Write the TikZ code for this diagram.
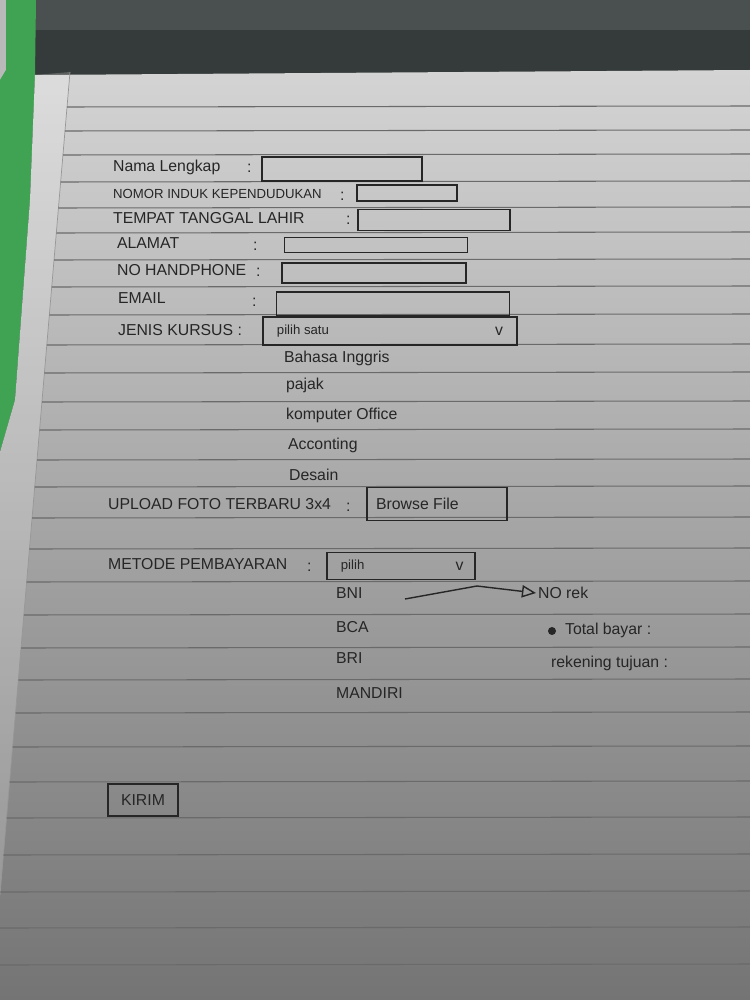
\documentclass[tikz,border=0pt]{standalone}
\usepackage{fontspec}
\setmainfont{Liberation Sans}
\usetikzlibrary{arrows.meta,positioning}
\definecolor{ink}{HTML}{262626}
\definecolor{desk}{HTML}{353B3A}
\definecolor{deskedge}{HTML}{4A504F}
\definecolor{folder}{HTML}{3FA353}
\definecolor{papertop}{HTML}{D4D4D4}
\definecolor{papermid}{HTML}{B8B8B8}
\definecolor{paperbot}{HTML}{747474}
\definecolor{rule}{HTML}{6A6A6A}

\begin{document}
\begin{tikzpicture}[x=0.02cm,y=-0.02cm]
    \useasboundingbox (0,0) rectangle (750,1000);
    % meja, map hijau, kertas bergaris
    \fill[desk] (0,0) rectangle (750,1000);
    \fill[deskedge] (0,0) rectangle (750,30);
    \fill[gray!55] (0,0) rectangle (8,80);
    \fill[folder] (6,0) -- (36,0) -- (35,75) -- (30,200) -- (15,400) -- (0,452) -- (0,80) -- (6,70) -- cycle;
    \shade[top color=papertop, middle color=papermid, bottom color=paperbot]
      (35,75) -- (750,70) -- (750,1000) -- (0,1000) -- (0,452) -- (15,400) -- (30,200) -- cycle;
    \fill[white, opacity=0.2] (35,75) -- (70,72) -- (0,895) -- (0,452) -- (15,400) -- (30,200) -- cycle;
    \draw[rule!70, line width=0.4pt] (70,72) -- (0,895);
    \foreach \ry in {107,131,155,182,208,233,260,287,315,345,373,402,430,460,487,518,549,
                     582,615,648,680,713,747,782,818,855,892,928,965}
      \draw[rule, line width=0.6pt] ({max(0,70-0.085*(\ry-72))},\ry) -- (750,\ry-1);

    \begin{scope}[every node/.style={draw=ink,line width=0.8pt,inner sep=0pt}]
      \node[minimum width=3.2cm,  minimum height=0.48cm] (bnama)    at (342,169) {};
      \node[minimum width=2.0cm,  minimum height=0.32cm] (bnik)     at (407,193) {};
      \node[minimum width=3.04cm, minimum height=0.42cm] (bttl)     at (434,220) {};
      \node[minimum width=3.66cm, minimum height=0.30cm] (balamat)  at (376,245) {};
      \node[minimum width=3.68cm, minimum height=0.40cm] (bhp)      at (374,273) {};
      \node[minimum width=4.66cm, minimum height=0.48cm] (bemail)   at (393,304) {};
      \node[minimum width=5.08cm, minimum height=0.56cm] (bkursus)  at (390,331) {};
      \node[minimum width=2.8cm,  minimum height=0.66cm] (bbrowse)  at (437,504) {};
      \node[minimum width=2.96cm, minimum height=0.54cm] (bmetode)  at (401,566) {};
      \node[minimum width=1.4cm,  minimum height=0.64cm, font=\fontsize{9}{10}\selectfont, text=ink] (kirim) at (143,800) {KIRIM};
    \end{scope}

    \begin{scope}[every node/.style={anchor=west,inner sep=1pt,text=ink,font=\fontsize{9}{10}\selectfont}]
      \node (lnama)    at (111,167) {Nama Lengkap};
      \node[font=\fontsize{7.5}{9}\selectfont] (lnik) at (111,194) {NOMOR INDUK KEPENDUDUKAN};
      \node (lttl)     at (111,218) {TEMPAT TANGGAL LAHIR};
      \node (lalamat)  at (115,243) {ALAMAT};
      \node (lhp)      at (115,270) {NO HANDPHONE};
      \node (lemail)   at (116,298) {EMAIL};
      \node (lkursus)  at (116,330) {JENIS KURSUS :};
      \node (lupload)  at (106,504) {UPLOAD FOTO TERBARU 3x4};
      \node (lmetode)  at (106,564) {METODE PEMBAYARAN};

      \node (c1) at (245,168) {:};
      \node (c2) at (338,196) {:};
      \node (c3) at (344,220) {:};
      \node (c4) at (251,246) {:};
      \node (c5) at (254,272) {:};
      \node (c6) at (250,302) {:};
      \node (c7) at (344,507) {:};
      \node (c8) at (305,567) {:};

      \node[right=2.5mm of bkursus.west, font=\fontsize{7.5}{9}\selectfont] (pilihsatu) {pilih satu};
      \node[left=2.5mm of bkursus.east] (vkursus) {v};
      \node[right=2.5mm of bmetode.west, font=\fontsize{7.5}{9}\selectfont] (pilih) {pilih};
      \node[left=2mm of bmetode.east] (vmetode) {v};
      \node (browse) at (374,504) {Browse File};

      \node (inggris)  at (282,358) {Bahasa Inggris};
      \node (pajak)    at (284,385) {pajak};
      \node (komputer) at (284,415) {komputer Office};
      \node (akuntan)  at (286,445) {Acconting};
      \node (desain)   at (287,475) {Desain};

      \node (bni)      at (334,593) {BNI};
      \node (bca)      at (334,627) {BCA};
      \node (bri)      at (334,658) {BRI};
      \node (mandiri)  at (334,693) {MANDIRI};

      \node (norek)    at (536,593) {NO rek};
      \node (total)    at (563,630) {Total bayar :};
      \node (tujuan)   at (549,663) {rekening tujuan :};
    \end{scope}

    \node[circle,fill=ink,inner sep=0pt,minimum size=0.16cm] (titik) at (552,631) {};

    \begin{scope}[>={Triangle[open,length=8pt,width=7pt]}]
      \coordinate (bnitail) at (405,599);
      \coordinate (bnibend) at (477,586);
      \draw[->,ink,line width=0.8pt] (bnitail) -- (bnibend) -- (norek.west);
    \end{scope}
\end{tikzpicture}
\end{document}
